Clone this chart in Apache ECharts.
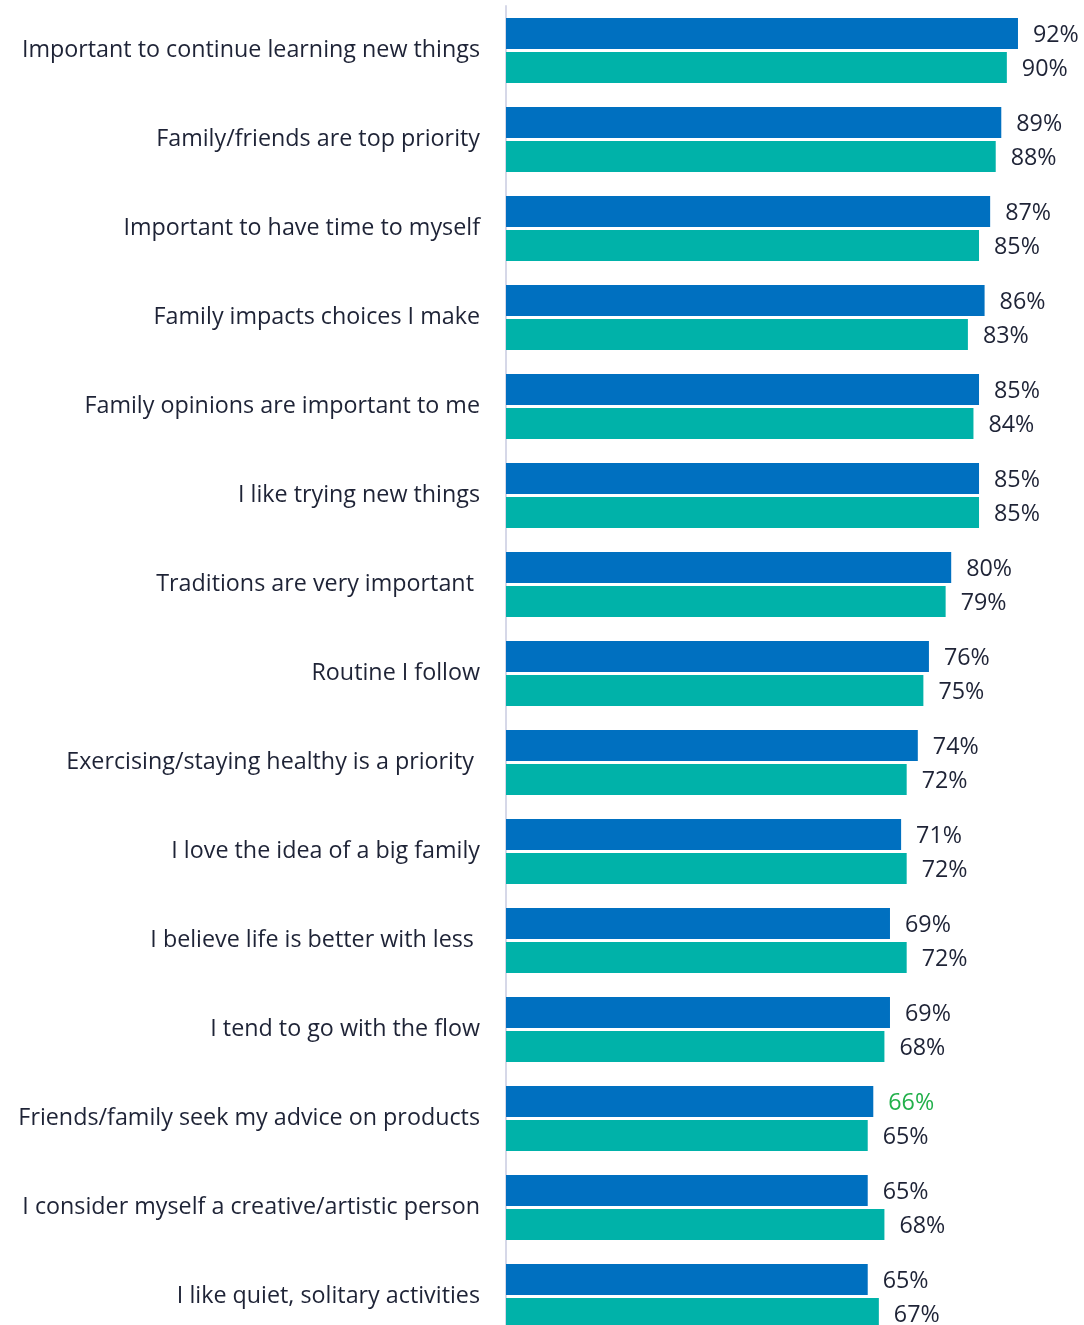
<!DOCTYPE html>
<html>
<head>
<meta charset="utf-8">
<script src="https://cdn.jsdelivr.net/npm/echarts@6/dist/echarts.min.js"></script>
<style>
  html, body { margin: 0; padding: 0; background: #ffffff; overflow: hidden; }
  #chart { width: 1084px; height: 1345px; }
</style>
</head>
<body>
<div id="chart"></div>
<script>
// Attitude statements, listed top to bottom
const categories = [
  'Important to continue learning new things',
  'Family/friends are top priority',
  'Important to have time to myself',
  'Family impacts choices I make',
  'Family opinions are important to me',
  'I like trying new things',
  'Traditions are very important ',
  'Routine I follow',
  'Exercising/staying healthy is a priority ',
  'I love the idea of a big family',
  'I believe life is better with less ',
  'I tend to go with the flow',
  'Friends/family seek my advice on products',
  'I consider myself a creative/artistic person',
  'I like quiet, solitary activities'
];

// Percent agreeing, first group (blue) and second group (teal)
const groupA = [92, 89, 87, 86, 85, 85, 80, 76, 74, 71, 69, 69, 66, 65, 65];
const groupB = [90, 88, 85, 83, 84, 85, 79, 75, 72, 72, 72, 68, 65, 68, 67];

// Index of the value label drawn in green
const highlightIndex = 12;

const textColor = '#1e2336';
const fontFamily = '"Open Sans", "Noto Sans", sans-serif';
const fontSize = 23.3;

const chart = echarts.init(document.getElementById('chart'), null, { renderer: 'canvas' });

function valueLabel() {
  return {
    show: true,
    position: 'right',
    distance: 15,
    offset: [0, 2],
    fontFamily: fontFamily,
    fontSize: fontSize,
    color: textColor,
    formatter: function (p) { return p.value + '%'; }
  };
}

chart.setOption({
  animation: false,
  backgroundColor: '#ffffff',
  grid: { left: 506, top: 6, width: 556.5, height: 1335, containLabel: false },
  xAxis: {
    type: 'value',
    min: 0,
    max: 100,
    show: false
  },
  yAxis: {
    type: 'category',
    data: categories,
    inverse: true,
    axisLine: { show: true, lineStyle: { color: '#d6d8e8', width: 2 } },
    axisTick: { show: false },
    axisLabel: {
      margin: 26,
      fontFamily: fontFamily,
      fontSize: fontSize,
      color: textColor
    },
    splitLine: { show: false }
  },
  series: [
    {
      type: 'bar',
      data: groupA.map(function (v, i) {
        return i === highlightIndex
          ? { value: v, label: { color: '#22b04b' } }
          : v;
      }),
      barWidth: 31,
      barGap: '10%',
      itemStyle: { color: '#0070c0' },
      label: valueLabel()
    },
    {
      type: 'bar',
      data: groupB,
      barWidth: 31,
      barGap: '10%',
      itemStyle: { color: '#00b2a9' },
      label: valueLabel()
    }
  ]
});
</script>
</body>
</html>
